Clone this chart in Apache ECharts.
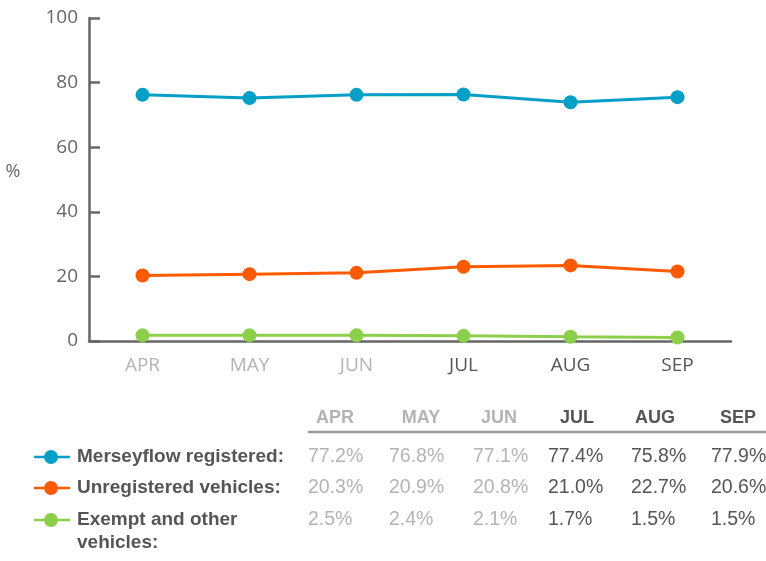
<!DOCTYPE html>
<html>
<head>
<meta charset="utf-8">
<script src="https://cdn.jsdelivr.net/npm/echarts@6/dist/echarts.min.js"></script>
<style>
  html, body { margin: 0; padding: 0; background: #fff; }
  #main { width: 766px; height: 561px; }
</style>
</head>
<body>
<div id="main"></div>
<script>
// chart data
const months = ['APR', 'MAY', 'JUN', 'JUL', 'AUG', 'SEP'];
const merseyflow = [76.2, 75.2, 76.2, 76.3, 73.9, 75.5];
const unregistered = [20.3, 20.7, 21.1, 23.0, 23.4, 21.5];
const exempt = [1.75, 1.75, 1.75, 1.6, 1.3, 1.1];
const seriesNames = ['Merseyflow registered:', 'Unregistered vehicles:', 'Exempt and other\nvehicles:'];

// table underneath
const tableMerseyflow = ['77.2%', '76.8%', '77.1%', '77.4%', '75.8%', '77.9%'];
const tableUnregistered = ['20.3%', '20.9%', '20.8%', '21.0%', '22.7%', '20.6%'];
const tableExempt = ['2.5%', '2.4%', '2.1%', '1.7%', '1.5%', '1.5%'];

const colors = ['#049fc6', '#ff5a00', '#8ccf4a'];
const dimCount = 3; // first three months shown in light grey
const light = '#b4b4b4';
const dark = '#555555';
const axisGrey = '#666666';

const chart = echarts.init(document.getElementById('main'), null, { renderer: 'canvas' });

// table layout
const headCenters = [335, 421, 499, 577, 655, 738];
const valueLeft = [308, 389, 473, 548, 631, 711];
const rowY = [457, 488, 520];
const tableFont = '"Liberation Sans", Arial, sans-serif';
const axisFont = '"Open Sans", sans-serif';

const graphics = [];
// y axis unit
graphics.push({
  type: 'text', x: 13, y: 172,
  style: { text: '%', fill: axisGrey, font: '18px ' + axisFont, align: 'center', verticalAlign: 'middle' }
});
months.forEach(function (m, i) {
  graphics.push({
    type: 'text', x: headCenters[i], y: 418,
    style: {
      text: m, fill: i < dimCount ? light : dark,
      font: 'bold 18px ' + tableFont, align: 'center', verticalAlign: 'middle'
    }
  });
});
graphics.push({
  type: 'line',
  shape: { x1: 308, y1: 432, x2: 766, y2: 432 },
  style: { stroke: '#9a9a9a', lineWidth: 2.5 }
});

[tableMerseyflow, tableUnregistered, tableExempt].forEach(function (row, r) {
  row.forEach(function (v, i) {
    graphics.push({
      type: 'text', x: valueLeft[i], y: rowY[r],
      style: {
        text: v, fill: i < dimCount ? light : dark,
        font: '19.5px ' + tableFont, align: 'left', verticalAlign: 'middle'
      }
    });
  });
  // legend key
  graphics.push({
    type: 'line',
    shape: { x1: 34, y1: rowY[r], x2: 70, y2: rowY[r] },
    style: { stroke: colors[r], lineWidth: 2.5 }
  });
  graphics.push({
    type: 'circle',
    shape: { cx: 51, cy: rowY[r], r: 7 },
    style: { fill: colors[r] }
  });
  graphics.push({
    type: 'text', x: 77, y: rowY[r] - 11.5,
    style: {
      text: seriesNames[r], fill: dark,
      font: 'bold 19px ' + tableFont, lineHeight: 23,
      align: 'left', verticalAlign: 'top'
    }
  });
});

const option = {
  animation: false,
  grid: { left: 89, right: 35, top: 18, bottom: 220, outerBoundsMode: 'none', containLabel: false },
  xAxis: {
    type: 'category',
    data: months,
    boundaryGap: true,
    axisLine: { lineStyle: { color: axisGrey, width: 2.5 } },
    axisTick: { inside: true, length: 7, lineStyle: { color: axisGrey, width: 2 } },
    axisLabel: {
      margin: 15,
      fontSize: 19,
      fontFamily: axisFont,
      color: function (value, index) { return index < dimCount ? light : dark; }
    },
    splitLine: { show: false }
  },
  yAxis: {
    type: 'value',
    min: 0, max: 100, interval: 20,
    axisLine: { show: true, lineStyle: { color: axisGrey, width: 2.5 } },
    axisTick: { show: true, inside: true, length: 11, lineStyle: { color: axisGrey, width: 2.5 } },
    axisLabel: { margin: 11, fontSize: 19, color: axisGrey, fontFamily: axisFont },
    splitLine: { show: false }
  },
  series: [merseyflow, unregistered, exempt].map(function (data, i) {
    return {
      name: seriesNames[i],
      type: 'line',
      data: data,
      symbol: 'circle',
      symbolSize: 14,
      itemStyle: { color: colors[i] },
      lineStyle: { color: colors[i], width: 3 }
    };
  }),
  graphic: graphics
};

chart.setOption(option);
</script>
</body>
</html>
